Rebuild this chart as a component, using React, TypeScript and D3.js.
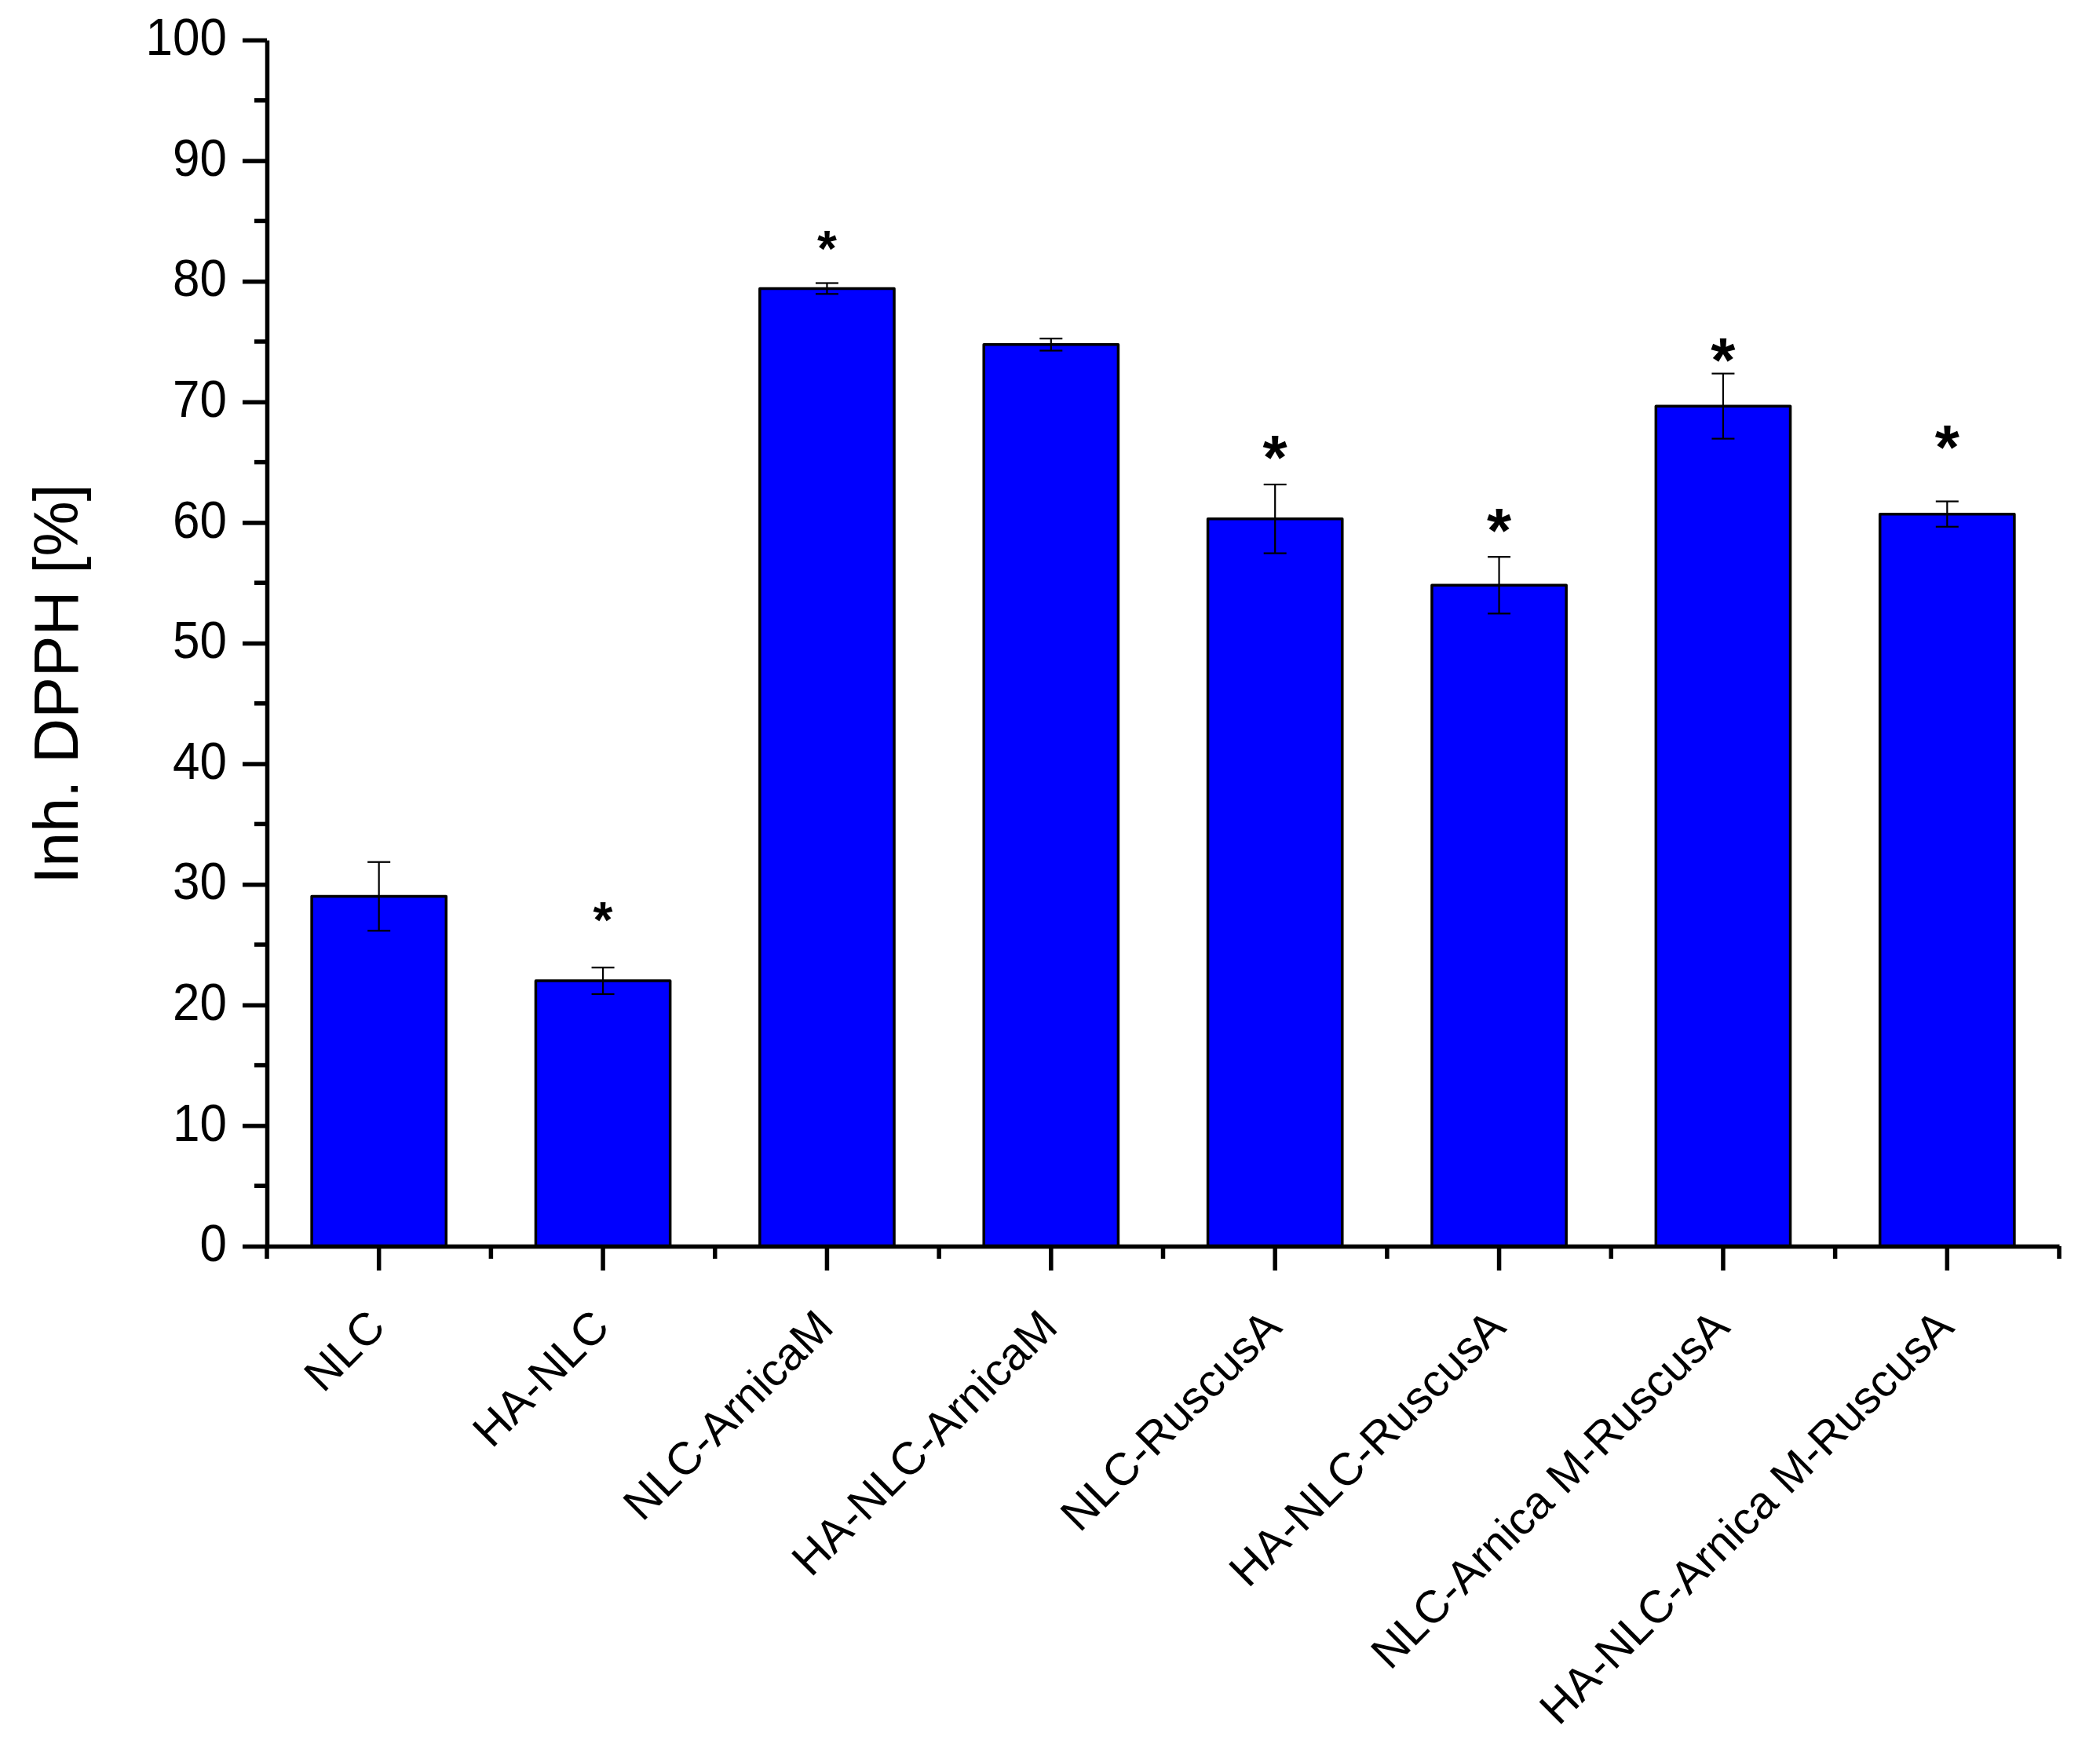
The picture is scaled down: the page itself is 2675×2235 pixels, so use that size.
import React, { useEffect, useRef } from 'react'
import * as d3 from 'd3'

const categories = [
	'NLC',
	'HA-NLC',
	'NLC-ArnicaM',
	'HA-NLC-ArnicaM',
	'NLC-RuscusA',
	'HA-NLC-RuscusA',
	'NLC-Arnica M-RuscusA',
	'HA-NLC-Arnica M-RuscusA'
]
const values = [29.0, 22.0, 79.4, 74.75, 60.3, 54.8, 69.65, 60.7]
const errors = [2.85, 1.1, 0.45, 0.5, 2.85, 2.35, 2.7, 1.05]

// significance marks: category, height in % units, size
const starCategories = [
	'HA-NLC',
	'NLC-ArnicaM',
	'NLC-RuscusA',
	'HA-NLC-RuscusA',
	'NLC-Arnica M-RuscusA',
	'HA-NLC-Arnica M-RuscusA'
]
const starLevels = [27.9, 83.6, 66.5, 60.5, 74.6, 67.4]
const starBig = [false, false, true, true, true, true]

const yMajorTicks = d3.range(0, 101, 10)
const yMinorTicks = d3.range(5, 100, 10)
const yTitle = 'Inh. DPPH [%]'

const App = () => {
	const d3Container = useRef<SVGSVGElement>(null)

	const width = 2675
	const height = 2235
	const marginTop = 51
	const marginLeft = 340
	const plotRight = 2623
	const plotBottom = 1587
	const font = '"Liberation Sans", Arial, sans-serif'

	useEffect(() => {
		if (!d3Container.current) return
		const svg = d3.select(d3Container.current)
		svg.selectAll('*').remove()

		const xScale = d3
			.scaleBand()
			.domain(categories)
			.range([marginLeft, plotRight])
			.paddingInner(0.4)
			.paddingOuter(0.2)

		const yScale = d3.scaleLinear().domain([0, 100]).range([plotBottom, marginTop])

		const step = xScale.step()
		const center = (c: string) => xScale(c) + xScale.bandwidth() / 2

		// столбцы
		svg
			.append('g')
			.selectAll('rect')
			.data(categories)
			.join('rect')
			.attr('x', d => xScale(d))
			.attr('y', (d, i) => yScale(values[i]))
			.attr('width', xScale.bandwidth())
			.attr('height', (d, i) => yScale(0) - yScale(values[i]))
			.attr('fill', '#0000ff')
			.attr('stroke', '#000')
			.attr('stroke-width', 3.5)
			.attr('stroke-linejoin', 'round')

		// планки погрешностей
		const capHalf = 14.5
		const err = svg
			.append('g')
			.attr('stroke', '#000')
			.attr('stroke-width', 2.2)
			.selectAll('g')
			.data(categories)
			.join('g')
		err
			.append('line')
			.attr('x1', d => center(d))
			.attr('x2', d => center(d))
			.attr('y1', (d, i) => yScale(values[i] + errors[i]))
			.attr('y2', (d, i) => yScale(values[i] - errors[i]))
		err
			.append('line')
			.attr('x1', d => center(d) - capHalf)
			.attr('x2', d => center(d) + capHalf)
			.attr('y1', (d, i) => yScale(values[i] + errors[i]))
			.attr('y2', (d, i) => yScale(values[i] + errors[i]))
		err
			.append('line')
			.attr('x1', d => center(d) - capHalf)
			.attr('x2', d => center(d) + capHalf)
			.attr('y1', (d, i) => yScale(values[i] - errors[i]))
			.attr('y2', (d, i) => yScale(values[i] - errors[i]))

		// звёздочки
		svg
			.append('g')
			.selectAll('text')
			.data(starCategories)
			.join('text')
			.attr('x', d => center(d))
			.attr('y', (d, i) => yScale(starLevels[i]) + (starBig[i] ? 80 : 64) * 0.56)
			.attr('text-anchor', 'middle')
			.attr('font-family', font)
			.attr('font-weight', 'bold')
			.attr('font-size', (d, i) => (starBig[i] ? 80 : 64))
			.text('*')

		// ось y
		const yAxis = svg
			.append('g')
			.attr('transform', `translate(${marginLeft},0)`)
			.call(
				d3
					.axisLeft(yScale)
					.tickValues(yMajorTicks)
					.tickSize(31)
					.tickSizeOuter(0)
					.tickPadding(20)
			)
		yAxis.select('.domain').attr('stroke-width', 5.5)
		yAxis.selectAll('.tick line').attr('stroke-width', 5.5)
		yAxis
			.selectAll('.tick text')
			.attr('font-family', font)
			.attr('font-size', 62)
			.attr('fill', '#000')
			.attr('dy', '0.28em')
			.attr('transform', 'scale(1,1.08)')

		svg
			.append('g')
			.attr('stroke', '#000')
			.attr('stroke-width', 5.5)
			.selectAll('line')
			.data(yMinorTicks)
			.join('line')
			.attr('x1', marginLeft - 16)
			.attr('x2', marginLeft)
			.attr('y1', d => yScale(d))
			.attr('y2', d => yScale(d))

		// ось x
		const xAxis = svg
			.append('g')
			.attr('transform', `translate(0,${plotBottom})`)
			.call(d3.axisBottom(xScale).tickSize(31).tickSizeOuter(0).tickFormat(() => ''))
		xAxis.select('.domain').attr('stroke-width', 5.5)
		xAxis.selectAll('.tick line').attr('stroke-width', 5.5)

		svg
			.append('g')
			.attr('stroke', '#000')
			.attr('stroke-width', 5.5)
			.selectAll('line')
			.data(d3.range(categories.length + 1))
			.join('line')
			.attr('x1', d => marginLeft + d * step)
			.attr('x2', d => marginLeft + d * step)
			.attr('y1', plotBottom)
			.attr('y2', plotBottom + 16)

		// подписи категорий
		svg
			.append('g')
			.selectAll('text')
			.data(categories)
			.join('text')
			.attr('transform', d => `translate(${center(d) + 11},${plotBottom + 106}) rotate(-45)`)
			.attr('text-anchor', 'end')
			.attr('font-family', font)
			.attr('font-size', 58)
			.text(d => d)

		// подпись оси y
		svg
			.append('text')
			.attr('transform', `translate(99,${(marginTop + plotBottom) / 2 + 52}) rotate(-90)`)
			.attr('text-anchor', 'middle')
			.attr('font-family', font)
			.attr('font-size', 79)
			.text(yTitle)
	}, [])

	return (
		<svg
			width={width}
			height={height}
			ref={d3Container}
			style={{ position: 'absolute', left: 0, top: 0, background: '#fff' }}
		></svg>
	)
}

export default App
